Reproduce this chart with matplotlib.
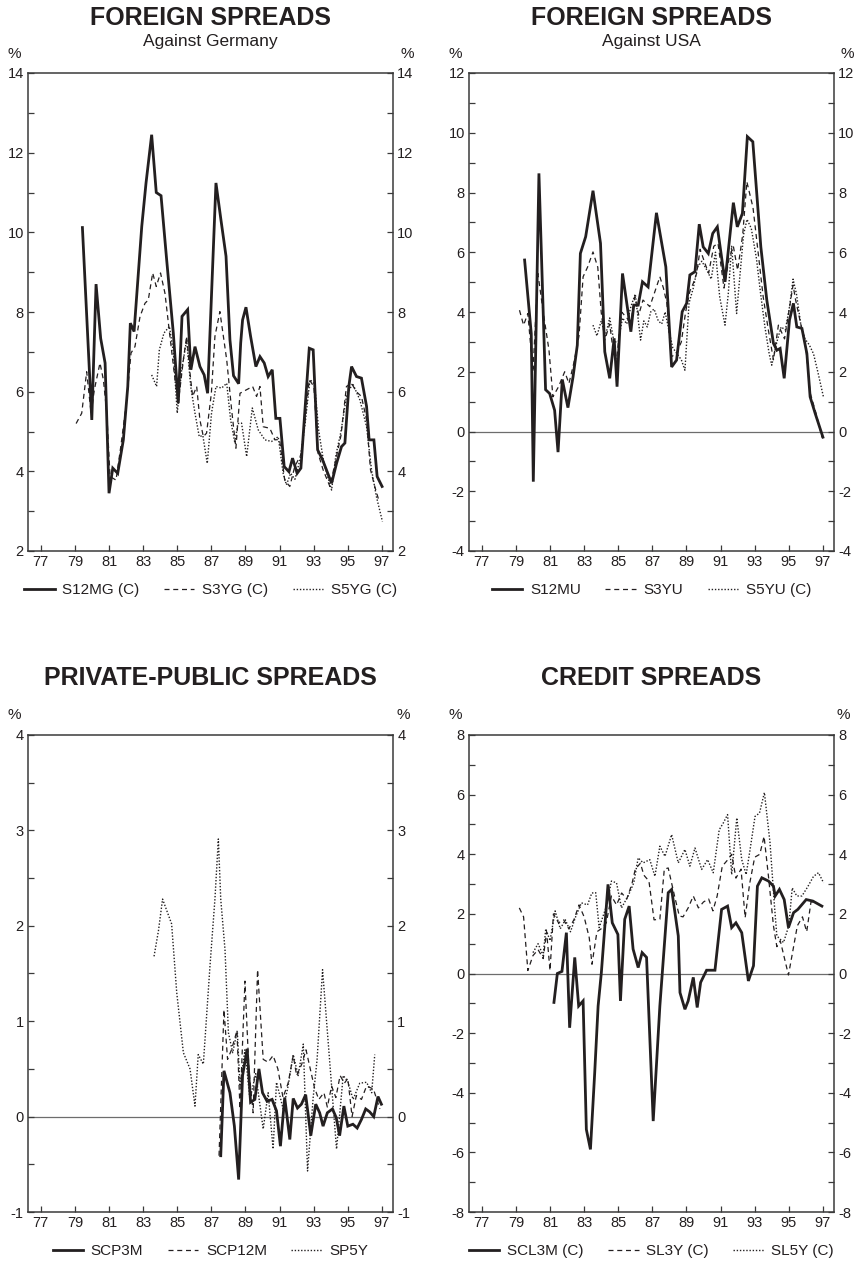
import matplotlib
matplotlib.use("Agg")
import matplotlib.pyplot as plt
from matplotlib.ticker import MultipleLocator

plt.rcParams["font.family"] = ["Liberation Sans", "DejaVu Sans"]
plt.rcParams["axes.unicode_minus"] = False

INK = "#231f20"

# --- Foreign spreads against Germany ---
s12mg_t = [79.44, 79.99, 80.24, 80.51, 80.77, 81.0, 81.22, 81.51, 81.84, 82.1, 82.25, 82.47,
           82.92, 83.17, 83.5, 83.77, 84.05, 84.38, 84.77, 85.06, 85.28, 85.61, 85.8, 86.04,
           86.33, 86.58, 86.78, 87.27, 87.56, 87.86, 88.09, 88.3, 88.6, 88.72, 88.83, 89.03,
           89.3, 89.61, 89.85, 90.1, 90.33, 90.57, 90.78, 91.02, 91.27, 91.55, 91.76, 92.03,
           92.25, 92.74, 92.97, 93.23, 93.52, 94.05, 94.34, 94.63, 94.83, 95.06, 95.22, 95.51,
           95.8, 96.1, 96.25, 96.53, 96.72, 97.01]
s12mg_v = [10.12, 5.29, 8.70, 7.34, 6.72, 3.45, 4.08, 3.95, 4.79, 6.13, 7.72, 7.51,
           10.15, 11.24, 12.45, 11.0, 10.92, 9.31, 7.47, 5.71, 7.89, 8.06, 6.55, 7.13,
           6.63, 6.42, 5.96, 11.24, 10.32, 9.4, 7.3, 6.4, 6.2, 7.22, 7.8, 8.12,
           7.39, 6.63, 6.88, 6.72, 6.38, 6.55, 5.33, 5.33, 4.12, 3.99, 4.33, 3.95,
           4.08, 7.09, 7.05, 4.54, 4.29, 3.70, 4.2, 4.62, 4.71, 6.13, 6.63, 6.38,
           6.34, 5.63, 4.79, 4.79, 3.87, 3.62]

s3yg_t = [79.07, 79.4, 79.69, 79.95, 80.14, 80.47, 80.67, 80.87, 81.06, 81.41, 81.69, 82.04,
          82.29, 82.52, 82.82, 83.11, 83.3, 83.56, 83.77, 84.02, 84.28, 84.57, 84.87, 85.06,
          85.36, 85.55, 85.75, 85.9, 86.14, 86.33, 86.53, 86.72, 87.0, 87.21, 87.5, 87.9,
          88.19, 88.44, 88.68, 89.07, 89.42, 89.65, 89.85, 90.04, 90.43, 90.73, 91.0, 91.3,
          91.6, 91.89, 92.29, 92.74, 93.01, 93.26, 93.55, 93.95, 94.3, 94.6, 94.92, 95.22,
          95.5, 95.8, 96.1, 96.33, 96.58, 96.8]
s3yg_v = [5.2, 5.46, 6.5, 5.45, 6.05, 6.72, 6.3, 5.46, 3.87, 3.78, 4.62, 5.79,
          6.97, 7.13, 7.89, 8.22, 8.3, 8.98, 8.64, 8.98, 8.47, 7.39, 6.3, 5.71,
          6.8, 7.39, 6.46, 5.88, 6.13, 5.29, 4.87, 4.96, 5.96, 7.39, 8.01, 6.8,
          5.54, 4.58, 5.96, 6.05, 6.13, 5.88, 6.13, 5.12, 5.08, 4.79, 4.8, 3.78,
          3.62, 4.12, 4.45, 6.3, 6.13, 4.45, 4.04, 3.62, 4.3, 4.9, 6.13, 6.21,
          6.0, 5.88, 5.29, 4.04, 3.62, 3.3]

s5yg_t = [83.5, 83.79, 83.95, 84.22, 84.54, 84.77, 85.0, 85.26, 85.55, 85.79, 86.04, 86.29,
          86.5, 86.76, 87.01, 87.27, 87.6, 87.9, 88.13, 88.38, 88.55, 88.77, 89.07, 89.4,
          89.75, 90.14, 90.53, 90.92, 91.21, 91.4, 91.65, 91.9, 92.2, 92.5, 92.78, 93.05,
          93.3, 93.6, 93.8, 94.05, 94.3, 94.6, 94.92, 95.28, 95.71, 96.1, 96.39, 96.68, 97.03]
s5yg_v = [6.42, 6.13, 7.05, 7.47, 7.64, 7.0, 5.46, 6.55, 7.3, 6.13, 5.46, 4.87,
          4.9, 4.2, 5.46, 6.13, 6.09, 6.21, 5.29, 4.71, 5.2, 5.21, 4.37, 5.59,
          5.04, 4.79, 4.75, 4.87, 3.95, 3.66, 3.95, 3.8, 4.3, 5.2, 6.3, 6.2,
          5.0, 4.2, 3.9, 3.53, 4.4, 5.0, 5.88, 6.21, 5.79, 5.12, 4.04, 3.36, 2.74]

# --- Foreign spreads against USA ---
s12mu_t = [79.51, 79.9, 80.02, 80.35, 80.74, 80.98, 81.27, 81.47, 81.72, 82.05, 82.35, 82.6,
           82.78, 83.09, 83.52, 83.96, 84.21, 84.5, 84.76, 84.93, 85.25, 85.74, 85.91, 86.17,
           86.42, 86.75, 87.24, 87.79, 88.13, 88.42, 88.75, 89.01, 89.2, 89.5, 89.75, 89.98,
           90.28, 90.54, 90.81, 91.26, 91.75, 91.98, 92.28, 92.57, 92.89, 93.36, 93.71, 94.1,
           94.3, 94.49, 94.73, 95.04, 95.27, 95.47, 95.77, 96.06, 96.25, 96.55, 97.0]
s12mu_v = [5.74, 3.28, -1.68, 8.64, 1.4, 1.27, 0.71, -0.69, 1.74, 0.8, 1.83, 2.89,
           5.96, 6.52, 8.06, 6.3, 2.67, 1.78, 3.12, 1.5, 5.29, 3.34, 4.23, 4.23,
           5.01, 4.84, 7.32, 5.51, 2.16, 2.39, 4.01, 4.29, 5.24, 5.35, 6.94, 6.18,
           5.96, 6.63, 6.85, 5.01, 7.66, 6.85, 7.3, 9.87, 9.7, 6.18, 4.4, 2.95,
           2.72, 2.78, 1.78, 3.73, 4.29, 3.5, 3.45, 2.61, 1.16, 0.6, -0.19]

s3yu_t = [79.21, 79.45, 79.7, 80.0, 80.29, 80.6, 80.94, 81.17, 81.5, 81.86, 82.11, 82.4,
          82.7, 82.94, 83.2, 83.52, 83.8, 84.0, 84.21, 84.5, 84.7, 84.9, 85.2, 85.5,
          85.75, 85.97, 86.2, 86.45, 86.85, 87.1, 87.44, 87.65, 87.85, 88.1, 88.4, 88.7,
          88.95, 89.2, 89.4, 89.6, 89.8, 90.1, 90.3, 90.6, 90.85, 91.2, 91.5, 91.75,
          92.0, 92.3, 92.54, 92.9, 93.2, 93.5, 93.8, 94.1, 94.39, 94.75, 95.0, 95.25,
          95.4, 95.7, 96.0, 96.25, 96.6, 96.95]
s3yu_v = [4.06, 3.56, 3.95, 2.0, 5.29, 4.0, 2.72, 1.16, 1.5, 2.0, 1.61, 2.3,
          3.2, 5.18, 5.5, 6.01, 5.5, 4.0, 3.06, 3.6, 2.7, 2.4, 4.0, 3.8,
          3.7, 4.51, 3.9, 4.4, 4.18, 4.6, 5.18, 4.8, 4.3, 2.5, 2.6, 3.0,
          4.0, 4.7, 4.96, 5.3, 6.1, 5.6, 5.3, 6.2, 6.3, 4.8, 5.8, 6.2,
          5.4, 6.6, 8.36, 7.5, 6.0, 4.5, 3.4, 2.4, 3.56, 3.1, 4.0, 4.9,
          4.4, 3.6, 2.8, 1.3, 0.6, -0.2]

s5yu_t = [83.52, 83.75, 84.0, 84.25, 84.5, 84.75, 85.0, 85.25, 85.5, 85.75, 86.0, 86.31,
          86.5, 86.7, 86.9, 87.1, 87.35, 87.55, 87.75, 88.0, 88.2, 88.45, 88.7, 88.91,
          89.15, 89.4, 89.65, 89.9, 90.2, 90.45, 90.7, 90.95, 91.26, 91.45, 91.65, 91.94,
          92.1, 92.35, 92.55, 92.8, 93.1, 93.35, 93.6, 93.85, 94.0, 94.3, 94.55, 94.8,
          95.05, 95.25, 95.45, 95.7, 95.95, 96.2, 96.45, 96.7, 97.03]
s5yu_v = [3.56, 3.2, 3.7, 3.2, 3.8, 3.0, 3.0, 3.8, 3.6, 4.2, 4.6, 3.06,
          3.7, 3.5, 4.0, 4.1, 3.7, 3.6, 4.0, 3.3, 2.8, 2.6, 2.4, 2.05,
          4.3, 4.8, 5.5, 5.7, 5.4, 5.1, 6.0, 4.5, 3.56, 4.6, 6.2, 3.95,
          5.0, 6.6, 7.1, 6.8, 5.8, 4.6, 3.5, 2.6, 2.22, 3.0, 3.5, 3.4,
          4.2, 5.1, 4.6, 3.6, 3.1, 2.9, 2.6, 2.0, 1.16]

# --- Private-public spreads ---
scp3m_t = [87.55, 87.74, 88.09, 88.35, 88.6, 88.83, 89.1, 89.3, 89.55, 89.79, 90.0, 90.27,
           90.56, 90.82, 91.05, 91.3, 91.6, 91.8, 92.05, 92.28, 92.53, 92.83, 93.12, 93.35,
           93.55, 93.8, 94.1, 94.32, 94.52, 94.77, 95.0, 95.3, 95.55, 95.8, 96.05, 96.28,
           96.52, 96.77, 96.97]
scp3m_v = [-0.41, 0.48, 0.25, -0.1, -0.66, 0.43, 0.71, 0.15, 0.18, 0.5, 0.25, 0.16,
           0.18, 0.06, -0.31, 0.2, -0.24, 0.19, 0.09, 0.13, 0.23, -0.2, 0.13, 0.04,
           -0.1, 0.04, 0.08, -0.01, -0.2, 0.11, -0.1, -0.08, -0.12, -0.03, 0.08, 0.05,
           0.0, 0.21, 0.13]

scp12m_t = [87.45, 87.74, 87.95, 88.18, 88.5, 88.68, 88.97, 89.2, 89.45, 89.71, 90.04, 90.33,
            90.62, 90.9, 91.2, 91.5, 91.8, 92.0, 92.3, 92.55, 92.8, 93.05, 93.3, 93.6,
            93.8, 94.05, 94.3, 94.55, 94.8, 95.0, 95.25, 95.5, 95.8, 96.1, 96.5, 96.88]
scp12m_v = [-0.41, 1.12, 0.6, 0.7, 0.9, 0.08, 1.42, 0.5, 0.04, 1.54, 0.6, 0.57,
            0.64, 0.5, 0.2, 0.35, 0.64, 0.43, 0.55, 0.7, 0.5, 0.3, 0.18, 0.25,
            0.1, 0.32, 0.2, 0.43, 0.35, 0.4, 0.0, 0.22, 0.18, 0.32, 0.29, 0.08]

sp5y_t = [83.64, 83.9, 84.14, 84.67, 84.97, 85.36, 85.75, 86.04, 86.23, 86.53, 86.92, 87.21,
          87.41, 87.55, 87.8, 88.0, 88.25, 88.52, 88.68, 88.97, 89.26, 89.6, 90.04, 90.33,
          90.62, 90.82, 91.21, 91.5, 91.8, 92.09, 92.39, 92.64, 92.97, 93.2, 93.52, 94.05,
          94.34, 94.73, 95.0, 95.31, 95.7, 96.1, 96.4, 96.58]
sp5y_v = [1.68, 1.95, 2.28, 2.02, 1.3, 0.67, 0.5, 0.11, 0.65, 0.55, 1.58, 2.28,
          2.91, 2.28, 1.75, 0.88, 0.67, 0.9, 0.32, 0.7, 0.18, 0.45, -0.13, 0.25,
          -0.34, 0.36, 0.08, 0.32, 0.65, 0.43, 0.76, -0.57, 0.2, 0.6, 1.54, 0.32,
          -0.34, 0.43, 0.37, 0.18, 0.35, 0.36, 0.25, 0.65]

# --- Credit spreads ---
scl3m_t = [81.23, 81.43, 81.7, 81.96, 82.15, 82.45, 82.68, 82.94, 83.13, 83.37, 83.62, 83.82,
           84.01, 84.4, 84.65, 84.98, 85.13, 85.38, 85.64, 85.87, 86.17, 86.4, 86.66, 87.05,
           87.44, 87.93, 88.13, 88.52, 88.62, 88.91, 89.1, 89.4, 89.63, 89.83, 90.18, 90.67,
           91.06, 91.41, 91.65, 91.9, 92.24, 92.63, 92.93, 93.16, 93.42, 93.81, 94.1, 94.2,
           94.45, 94.73, 94.98, 95.28, 95.53, 96.02, 96.41, 96.94]
scl3m_v = [-0.97, 0.0, 0.07, 1.37, -1.82, 0.54, -1.09, -0.92, -5.23, -5.9, -3.33, -1.09,
           0.03, 2.99, 1.7, 1.31, -0.92, 1.82, 2.26, 0.82, 0.2, 0.7, 0.54, -4.95,
           -1.09, 2.71, 2.82, 1.26, -0.64, -1.2, -0.92, -0.13, -1.14, -0.3, 0.11, 0.11,
           2.15, 2.26, 1.54, 1.7, 1.37, -0.25, 0.26, 2.93, 3.21, 3.1, 2.93, 2.6,
           2.82, 2.48, 1.54, 2.04, 2.15, 2.48, 2.43, 2.26]

sl3y_t = [79.2, 79.45, 79.7, 80.0, 80.3, 80.6, 80.8, 81.0, 81.2, 81.5, 81.8, 82.1,
          82.4, 82.7, 83.0, 83.3, 83.46, 83.75, 84.0, 84.3, 84.6, 84.9, 85.2, 85.5,
          85.8, 86.0, 86.3, 86.5, 86.8, 87.1, 87.44, 87.7, 87.93, 88.3, 88.58, 88.8,
          89.1, 89.4, 89.7, 90.0, 90.3, 90.55, 90.8, 91.1, 91.4, 91.65, 91.9, 92.2,
          92.44, 92.7, 93.0, 93.3, 93.55, 93.8, 94.1, 94.3, 94.5, 94.75, 94.98, 95.25,
          95.5, 95.8, 96.05, 96.3, 96.6]
sl3y_v = [2.2, 1.9, 0.1, 0.6, 0.8, 0.5, 1.4, 0.1, 2.0, 1.7, 1.8, 1.5,
          1.8, 2.3, 1.9, 1.2, 0.31, 1.4, 1.5, 1.7, 2.6, 2.3, 2.7, 2.5,
          3.0, 3.5, 3.7, 3.3, 3.1, 1.8, 1.82, 3.5, 3.54, 2.6, 1.93, 1.9,
          2.2, 2.6, 2.2, 2.4, 2.5, 2.1, 2.6, 3.6, 3.8, 4.0, 3.2, 3.5,
          1.87, 3.0, 3.9, 4.0, 4.6, 3.3, 1.6, 0.9, 1.1, 0.5, -0.05, 0.8,
          1.6, 1.9, 1.4, 2.4, 2.4]

sl5y_t = [80.0, 80.3, 80.6, 80.75, 81.0, 81.3, 81.6, 81.9, 82.2, 82.5, 82.84, 83.2,
          83.45, 83.68, 83.88, 84.31, 84.6, 84.9, 85.19, 85.58, 85.91, 86.17, 86.46, 86.85,
          87.15, 87.44, 87.74, 88.13, 88.52, 88.91, 89.2, 89.5, 89.89, 90.24, 90.57, 90.92,
          91.16, 91.41, 91.65, 91.95, 92.24, 92.5, 92.73, 93.02, 93.28, 93.57, 93.9, 94.16,
          94.3, 94.69, 95.0, 95.2, 95.47, 95.77, 96.1, 96.45, 96.74, 97.04]
sl5y_v = [0.7, 1.0, 0.6, 1.5, 1.1, 2.1, 1.5, 1.8, 1.4, 1.9, 2.37, 2.3,
          2.7, 2.71, 1.54, 2.26, 3.1, 3.04, 2.2, 2.6, 3.04, 3.88, 3.71, 3.82,
          3.26, 4.27, 3.93, 4.66, 3.71, 4.16, 3.6, 4.21, 3.49, 3.82, 3.38, 4.82,
          5.05, 5.33, 3.32, 5.22, 3.82, 3.32, 4.16, 5.27, 5.38, 6.07, 4.38, 2.26,
          1.26, 1.04, 1.6, 2.87, 2.6, 2.6, 2.9, 3.26, 3.38, 3.04]

year_ticks = list(range(77, 98, 2))
year_labels = [str(y) for y in year_ticks]

LINE_STYLES = {
    "solid": dict(lw=2.0, ls="-"),
    "dash": dict(lw=0.9, ls=(0, (4, 3))),
    "dot": dict(lw=1.0, ls=(0, (1, 1.3))),
}

W, H = 861, 1261


def fig_box(left, top, right, bottom):
    """Pixel box -> figure fraction [x0, y0, w, h]."""
    return [left / W, 1 - bottom / H, (right - left) / W, (bottom - top) / H]


def fy(py):
    return 1 - py / H


def draw_panel(fig, box, ylim, major, minor, series, labels,
               title, subtitle, title_y, pct_y, pct_x):
    ax = fig.add_axes(fig_box(*box))
    for (t, v, style) in series:
        ax.plot(t, v, color=INK, solid_joinstyle="miter", **LINE_STYLES[style])

    if ylim[0] < 0:
        ax.axhline(0, color="#6d6d6d", lw=0.9, zorder=0)

    ax.set_xlim(76.25, 97.65)
    ax.set_ylim(*ylim)
    ax.set_xticks(year_ticks)
    ax.set_xticklabels(year_labels)
    ax.yaxis.set_major_locator(MultipleLocator(major))
    ax.yaxis.set_minor_locator(MultipleLocator(minor))
    ax.yaxis.set_major_formatter(plt.FuncFormatter(lambda v, p: f"{v:g}"))

    for sp in ax.spines.values():
        sp.set_color("#3a3a3a")
        sp.set_linewidth(1.1)
    ax.tick_params(axis="both", which="both", direction="in", length=4,
                   width=0.9, color="#3a3a3a", labelsize=10.5, labelcolor=INK, pad=3)
    ax.tick_params(axis="y", which="both", left=True, right=True,
                   labelleft=True, labelright=True)
    ax.tick_params(axis="x", which="both", top=False)

    leg = ax.legend(labels, loc="center", bbox_to_anchor=(0.5, -0.082), ncol=3,
                    frameon=False, fontsize=11, handlelength=2.0, handletextpad=0.5,
                    columnspacing=1.6, borderaxespad=0, borderpad=0)
    for txt in leg.get_texts():
        txt.set_color(INK)

    cx = (box[0] + box[2]) / 2 / W
    fig.text(cx, fy(title_y), title, ha="center", va="baseline",
             fontsize=18, fontweight="bold", color=INK)
    if subtitle:
        fig.text(cx, fy(title_y + 21), subtitle, ha="center", va="baseline",
                 fontsize=12.5, color=INK)
    fig.text(pct_x[0] / W, fy(pct_y), "%", ha="center", va="baseline",
             fontsize=11, color=INK)
    fig.text(pct_x[1] / W, fy(pct_y), "%", ha="center", va="baseline",
             fontsize=11, color=INK)
    return ax


fig = plt.figure(figsize=(W / 100, H / 100), dpi=100)

draw_panel(fig, (28, 73, 393, 551), (2, 14), 2, 1,
           [(s12mg_t, s12mg_v, "solid"), (s3yg_t, s3yg_v, "dash"), (s5yg_t, s5yg_v, "dot")],
           ["S12MG (C)", "S3YG (C)", "S5YG (C)"],
           "FOREIGN SPREADS", "Against Germany", 25, 58, (14, 407))

draw_panel(fig, (469, 73, 834, 551), (-4, 12), 2, 1,
           [(s12mu_t, s12mu_v, "solid"), (s3yu_t, s3yu_v, "dash"), (s5yu_t, s5yu_v, "dot")],
           ["S12MU", "S3YU", "S5YU (C)"],
           "FOREIGN SPREADS", "Against USA", 25, 58, (455, 847))

draw_panel(fig, (28, 735, 393, 1212), (-1, 4), 1, 0.5,
           [(scp3m_t, scp3m_v, "solid"), (scp12m_t, scp12m_v, "dash"), (sp5y_t, sp5y_v, "dot")],
           ["SCP3M", "SCP12M", "SP5Y"],
           "PRIVATE-PUBLIC SPREADS", None, 685, 719, (14, 403))

draw_panel(fig, (469, 735, 834, 1212), (-8, 8), 2, 1,
           [(scl3m_t, scl3m_v, "solid"), (sl3y_t, sl3y_v, "dash"), (sl5y_t, sl5y_v, "dot")],
           ["SCL3M (C)", "SL3Y (C)", "SL5Y (C)"],
           "CREDIT SPREADS", None, 685, 719, (455, 843))

fig.savefig("out.png", dpi=100, facecolor="white")
plt.close(fig)
